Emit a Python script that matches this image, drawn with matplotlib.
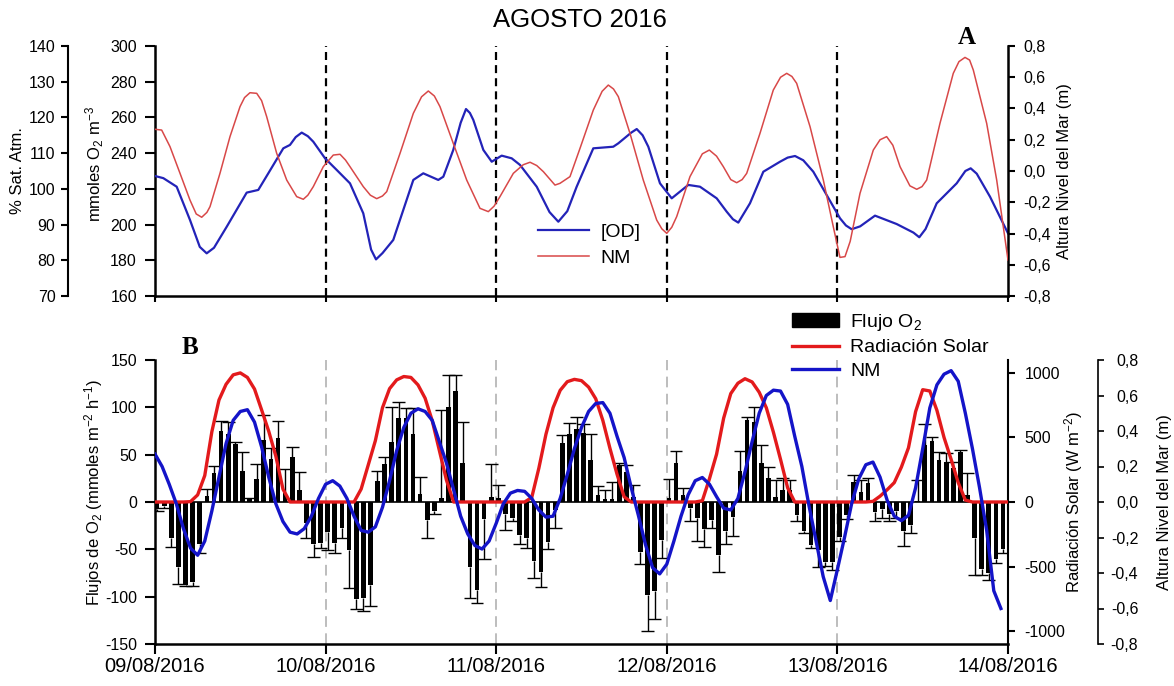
import numpy as np
import matplotlib
matplotlib.use("Agg")
import matplotlib.pyplot as plt
from matplotlib.ticker import FuncFormatter
from matplotlib.patches import Patch
from matplotlib.lines import Line2D

plt.rcParams.update({
    "font.family": ["Liberation Sans", "DejaVu Sans"],
    "mathtext.fontset": "custom",
    "mathtext.rm": "Liberation Sans",
    "mathtext.it": "Liberation Sans:italic",
    "mathtext.bf": "Liberation Sans:bold",
    "axes.unicode_minus": False,
})

# ---------------- data ----------------
date_labels = ["09/08/2016", "10/08/2016", "11/08/2016", "12/08/2016", "13/08/2016", "14/08/2016"]
day_hours = [0, 24, 48, 72, 96, 120]

# Panel A: dissolved oxygen (mmoles O2 m-3), hours from 09/08 00:00
od_hours = [0, 1.17, 3.05, 4.92, 6.3, 7.27, 8.3, 10.09, 12.90, 14.53, 15.94, 18.05, 18.99, 19.8,
            20.64, 21.5, 22.27, 23.92, 25.56, 27.43, 29.30, 30.4, 31.09, 32.0, 33.52, 36.34, 37.74,
            39.85, 40.56, 41.96, 43.0, 43.75, 44.3, 44.78, 46.19, 47.37, 48.77, 50.18, 51.35, 53.70,
            55.5, 56.74, 58.0, 59.32, 61.66, 64.47, 65.18, 67.0, 67.77, 68.6, 69.40, 71.04, 72.69,
            75.02, 76.67, 79.02, 80.43, 81.3, 82.06, 83.70, 85.58, 87.93, 89.0, 90.04, 91.2, 92.61,
            96.37, 97.2, 98.01, 99.2, 101.29, 104.34, 106.7, 107.52, 108.4, 109.97, 112.78, 114.0,
            114.75, 115.6, 117.47, 120.0]
od_values = [227.2, 226.0, 221.2, 202.6, 187.5, 183.9, 187.0, 198.8, 217.9, 219.4, 228.7, 242.7, 244.6,
             249.0, 251.5, 249.5, 246.4, 237.1, 230.6, 223.1, 206.3, 186.0, 180.5, 184.0, 191.4, 225.0,
             228.7, 225.0, 226.8, 241.8, 257.0, 264.7, 262.5, 258.6, 241.8, 235.2, 238.6, 237.1, 233.4,
             221.2, 207.0, 201.6, 207.5, 221.2, 242.7, 243.6, 245.5, 251.5, 253.5, 250.0, 243.6, 223.1,
             214.7, 222.2, 221.2, 214.7, 207.2, 203.0, 201.1, 211.9, 229.6, 235.2, 237.5, 238.4, 236.0,
             229.6, 203.5, 199.5, 197.4, 199.0, 205.0, 200.3, 195.5, 192.9, 197.5, 211.9, 223.1, 230.0,
             231.5, 228.5, 215.6, 195.1]

# Panel A: sea level (m)
nm_a_hours = [0, 0.94, 2.11, 3.52, 4.92, 5.8, 6.57, 7.3, 7.74, 9.14, 10.55, 11.96, 12.6, 13.36, 14.31,
              15.0, 15.71, 17.12, 18.53, 19.93, 20.86, 21.5, 22.27, 23.68, 25.08, 26.03, 26.8, 27.43,
              29.30, 30.3, 31.19, 32.0, 32.60, 34.47, 36.34, 37.5, 38.45, 39.3, 40.09, 41.96, 43.85,
              45.72, 46.89, 47.7, 48.53, 50.41, 51.8, 52.76, 53.7, 54.63, 56.27, 56.97, 58.38, 59.79,
              61.66, 62.9, 63.77, 64.5, 65.18, 66.82, 68.69, 70.58, 71.3, 71.99, 72.7, 73.39, 75.26,
              77.0, 77.98, 79.0, 79.95, 81.0, 81.83, 82.6, 83.24, 85.11, 86.98, 88.0, 88.87, 89.6,
              90.27, 92.15, 94.02, 95.42, 96.36, 97.07, 97.8, 99.18, 101.05, 102.0, 102.93, 103.8,
              104.81, 106.2, 107.16, 107.9, 108.56, 110.43, 112.30, 113.1, 113.95, 114.6, 115.12,
              117.00, 118.41, 120.0]
nm_a_values = [0.267, 0.262, 0.156, -0.015, -0.186, -0.275, -0.296, -0.265, -0.228, -0.015, 0.22, 0.412,
               0.47, 0.501, 0.497, 0.45, 0.348, 0.113, -0.058, -0.164, -0.181, -0.155, -0.1, 0.028,
               0.102, 0.107, 0.07, 0.028, -0.1, -0.155, -0.177, -0.16, -0.132, 0.113, 0.369, 0.475,
               0.512, 0.48, 0.412, 0.177, -0.058, -0.239, -0.26, -0.225, -0.164, -0.015, 0.04, 0.056,
               0.035, -0.004, -0.09, -0.079, -0.036, 0.145, 0.39, 0.51, 0.55, 0.525, 0.476, 0.241,
               -0.058, -0.314, -0.37, -0.399, -0.36, -0.292, -0.036, 0.11, 0.134, 0.095, 0.028, -0.055,
               -0.075, -0.055, -0.015, 0.241, 0.518, 0.60, 0.625, 0.605, 0.561, 0.284, -0.058, -0.356,
               -0.553, -0.548, -0.45, -0.143, 0.134, 0.2, 0.22, 0.165, 0.028, -0.095, -0.117, -0.1,
               -0.058, 0.305, 0.625, 0.70, 0.727, 0.71, 0.646, 0.305, -0.058, -0.57]

# Panel B: hourly O2 flux (mmoles m-2 h-1) and its error
flux = [-7.4, -3.9, -37.7, -69.0, -87.6, -84.1, -44.4, 6.3, 30.6, 74.6,
        71.8, 60.9, 32.7, 3.2, 23.9, 65.5, 45.0, 67.2, 10.0, 47.2,
        12.3, -22.5, -44.4, -43.6, -31.3, -43.0, -27.1, -50.7, -102.8, -101.0,
        -87.6, 22.2, 40.1, 63.7, 88.4, 88.4, 71.8, 8.1, -18.7, -9.5,
        4.0, 100.7, 117.2, 40.8, -69.0, -92.9, -18.0, 5.6, 4.6, -13.0,
        -16.5, -34.8, -38.4, -62.0, -74.2, -41.9, -8.4, 62.0, 71.8, 76.7,
        73.2, 44.0, 7.4, 3.2, 3.2, 39.0, 32.0, 5.6, -52.4, -98.2,
        -94.0, -40.1, 4.0, 40.8, 7.4, -6.0, -17.2, -28.5, -19.0, -56.0,
        -30.3, -16.2, 33.1, 86.6, 84.8, 40.8, 25.0, 5.6, 12.3, 12.7,
        -13.7, -30.3, -45.4, -50.7, -63.7, -63.7, -36.6, -13.7, 21.5, 10.9,
        20.4, -10.2, -7.4, -13.0, -9.5, -30.6, -24.3, 1.0, 60.2, 64.4,
        44.4, 41.9, 35.6, 53.2, 7.0, -37.7, -70.8, -75.3, -60.5, -50.0]
flux_err = [2, 2, 10.2, 18, 1, 4.6, 9.2, 7, 7.4, 10.9,
            13, 2, 20, 1, 16.5, 26, 12, 18, 25, 11,
            19.7, 15.8, 14, 5.3, 19.4, 11, 11.3, 40, 10.2, 14,
            22, 10.6, 7.7, 37, 17.6, 11.3, 27.8, 18, 19, 3.5,
            93, 33, 17, 44, 32.7, 14, 42, 35, 13, 16.5,
            4, 9.5, 10.6, 18.7, 16, 8, 18.7, 8.8, 12, 12.7,
            8.8, 28, 9.5, 10, 18, 2, 7, 12, 13.4, 38,
            29.6, 19.4, 20, 13, 7.7, 14, 24, 19.4, 8.8, 18.3,
            14, 20, 21, 3.5, 16, 19.4, 11.6, 17.6, 12.7, 10.6,
            6, 2, 3.5, 17.6, 3.5, 8, 5, 4, 7, 12.3,
            4.6, 10, 10, 7, 7.7, 15.8, 8, 22, 22, 4.6,
            8.8, 10, 7, 2, 24, 39, 6, 7, 4, 4]

# Panel B: hourly solar radiation (W m-2), one list per day
rad_day1 = [0, 0, 0, 0, 0, 3, 55, 205, 545, 790, 912, 985, 1000, 965, 875, 713, 548, 355, 100, 0, 0, 0, 0, 0]
rad_day2 = [0, 0, 0, 0, 0, 100, 287, 475, 730, 878, 946, 972, 965, 907, 804, 630, 400, 170, 0, 0, 0, 0, 0, 0]
rad_day3 = [0, 0, 0, 0, 0, 35, 262, 525, 730, 865, 932, 950, 940, 890, 800, 632, 416, 215, 40, 0, 0, 0, 0, 0]
rad_day4 = [0, 0, 0, 0, 0, 10, 180, 370, 650, 840, 920, 955, 930, 850, 730, 540, 330, 110, 0, 0, 0, 0, 0, 0]
rad_day5 = [0, 0, 0, 0, 0, 5, 45, 95, 150, 270, 420, 700, 870, 860, 710, 500, 330, 150, 15, 0, 0, 0, 0, 0]
rad_end = [0]

# Panel B: hourly sea level (m)
nm_b = [0.27, 0.20, 0.10, -0.01, -0.15, -0.26, -0.30, -0.22, -0.05, 0.14,
        0.33, 0.46, 0.51, 0.52, 0.45, 0.31, 0.14, -0.01, -0.11, -0.17,
        -0.18, -0.15, -0.08, 0.02, 0.10, 0.12, 0.09, 0.02, -0.08, -0.16,
        -0.17, -0.14, -0.03, 0.12, 0.29, 0.42, 0.50, 0.525, 0.51, 0.46,
        0.34, 0.22, 0.07, -0.08, -0.18, -0.245, -0.265, -0.22, -0.12, -0.01,
        0.05, 0.065, 0.06, 0.02, -0.045, -0.085, -0.08, 0.02, 0.155, 0.30,
        0.42, 0.51, 0.555, 0.56, 0.50, 0.37, 0.25, 0.08, -0.075, -0.24,
        -0.37, -0.405, -0.35, -0.22, -0.08, 0.04, 0.12, 0.138, 0.10, 0.03,
        -0.035, -0.045, 0.02, 0.17, 0.34, 0.50, 0.60, 0.63, 0.625, 0.55,
        0.37, 0.20, -0.02, -0.22, -0.42, -0.555, -0.38, -0.20, -0.01, 0.13,
        0.21, 0.225, 0.14, 0.01, -0.08, -0.105, -0.075, 0.08, 0.30, 0.53,
        0.66, 0.72, 0.74, 0.68, 0.50, 0.30, 0.08, -0.16, -0.50, -0.60]

# ---------------- styling ----------------
BLUE_A = "#2323b8"
RED_A = "#d84848"
BLUE_B = "#1414c8"
RED_B = "#e31a1c"
TICK_FS = 11.5
LABEL_FS = 12
LEG_FS = 14


def comma_fmt(v, pos):
    s = f"{v:.1f}"
    if s == "-0.0":
        s = "0.0"
    return s.replace(".", ",")


W, H = 1174, 686


def box(x0, y0, x1, y1):
    return [x0 / W, 1 - y1 / H, (x1 - x0) / W, (y1 - y0) / H]


fig = plt.figure(figsize=(W / 100, H / 100), dpi=100)
ax_top = fig.add_axes(box(155, 46, 1008, 296))
ax_bot = fig.add_axes(box(155, 360, 1008, 644))
span_px = 1008 - 155

# ---------------- panel A ----------------
ax_top.plot(od_hours, od_values, color=BLUE_A, lw=1.6, zorder=3)
ax_top.set_xlim(0, 120)
ax_top.set_ylim(160, 300)
ax_top.set_yticks(np.arange(160, 301, 20))
for d in day_hours[1:-1]:
    ax_top.axvline(d, color="black", lw=1.6, ls=(0, (3.6, 2.3)), zorder=1)
ax_top.set_xticks(day_hours)
ax_top.set_xticklabels([])
ax_top.tick_params(axis="x", direction="out", length=4, width=1.5)
ax_top.tick_params(axis="y", direction="out", length=7, width=1.5, pad=6, labelsize=TICK_FS)
for s in ("top", "right"):
    ax_top.spines[s].set_visible(False)
for s in ("left", "bottom"):
    ax_top.spines[s].set_linewidth(1.8)
ax_top.set_ylabel("mmoles O$_2$ m$^{-3}$", fontsize=LABEL_FS)
ax_top.yaxis.set_label_coords((106 - 155) / span_px, 0.53)

ax_top_r = ax_top.twinx()
ax_top_r.plot(nm_a_hours, nm_a_values, color=RED_A, lw=1.1, zorder=3)
ax_top_r.set_ylim(-0.8, 0.8)
ax_top_r.set_yticks(np.linspace(-0.8, 0.8, 9))
ax_top_r.yaxis.set_major_formatter(FuncFormatter(comma_fmt))
ax_top_r.tick_params(axis="y", direction="out", length=5, width=1.5, pad=6, labelsize=TICK_FS)
for s in ("top", "left", "bottom"):
    ax_top_r.spines[s].set_visible(False)
ax_top_r.spines["right"].set_linewidth(1.8)
ax_top_r.set_ylabel("Altura Nivel del Mar (m)", fontsize=LABEL_FS)
ax_top_r.yaxis.set_label_coords((1057 - 155) / span_px, 0.5)

ax_sat = ax_top.twinx()
ax_sat.set_ylim(70, 140)
ax_sat.set_yticks(np.arange(70, 141, 10))
ax_sat.yaxis.tick_left()
ax_sat.yaxis.set_label_position("left")
ax_sat.spines["left"].set_position(("axes", (68 - 155) / span_px))
for s in ("top", "right", "bottom"):
    ax_sat.spines[s].set_visible(False)
ax_sat.spines["left"].set_visible(True)
ax_sat.spines["left"].set_linewidth(1.5)
ax_sat.tick_params(axis="y", direction="out", length=5, width=1.5, pad=4, labelsize=TICK_FS)
ax_sat.set_ylabel("% Sat. Atm.", fontsize=LABEL_FS)
ax_sat.yaxis.set_label_coords((25 - 155) / span_px, 0.5)

fig.legend(handles=[Line2D([], [], color=BLUE_A, lw=1.6), Line2D([], [], color=RED_A, lw=1.1)],
           labels=["[OD]", "NM"], loc="upper left", bbox_to_anchor=(538 / W, 1 - 223 / H),
           frameon=False, fontsize=LEG_FS, handlelength=2.6, handletextpad=0.6,
           labelspacing=0.45, borderpad=0, borderaxespad=0)

# ---------------- panel B ----------------
flux_arr = np.array(flux)
err_arr = np.array(flux_err)
bar_x = np.arange(len(flux)) + 0.3
ax_bot.axhline(0, color="black", lw=1.2, zorder=1)
ax_bot.bar(bar_x, flux_arr, width=0.66, color="black", zorder=2)
tips = np.where(flux_arr >= 0, flux_arr + err_arr, flux_arr - err_arr)
ax_bot.vlines(bar_x, flux_arr, tips, color="black", lw=1.0, zorder=2)
ax_bot.hlines(tips, bar_x - 0.9, bar_x + 0.9, color="black", lw=1.0, zorder=2)
for d in day_hours[1:-1]:
    ax_bot.axvline(d, color="#bdbdbd", lw=1.4, ls=(0, (5.5, 3.3)), zorder=0)
ax_bot.set_xlim(0, 120)
ax_bot.set_ylim(-150, 150)
ax_bot.set_yticks(np.arange(-150, 151, 50))
ax_bot.set_xticks(day_hours)
ax_bot.set_xticklabels(date_labels, fontsize=14.5)
ax_bot.tick_params(axis="x", direction="out", length=7, width=1.5, pad=2)
ax_bot.tick_params(axis="y", direction="out", length=7, width=1.5, pad=6, labelsize=TICK_FS)
for s in ("top", "right"):
    ax_bot.spines[s].set_visible(False)
for s in ("left", "bottom"):
    ax_bot.spines[s].set_linewidth(1.8)
ax_bot.set_ylabel("Flujos de O$_2$ (mmoles m$^{-2}$ h$^{-1}$)", fontsize=LABEL_FS)
ax_bot.yaxis.set_label_coords((105 - 155) / span_px, 0.535)

radiation = rad_day1 + rad_day2 + rad_day3 + rad_day4 + rad_day5 + rad_end
ax_rad = ax_bot.twinx()
ax_rad.plot(np.arange(len(radiation)), radiation, color=RED_B, lw=2.4, zorder=3)
ax_rad.set_ylim(-1100, 1100)
ax_rad.set_yticks([-1000, -500, 0, 500, 1000])
ax_rad.tick_params(axis="y", direction="out", length=5, width=1.5, pad=7, labelsize=TICK_FS)
for s in ("top", "left", "bottom"):
    ax_rad.spines[s].set_visible(False)
ax_rad.spines["right"].set_linewidth(1.5)
ax_rad.set_ylabel("Radiación Solar (W m$^{-2}$)", fontsize=LABEL_FS)
ax_rad.yaxis.set_label_coords((1062 - 155) / span_px, 0.5)

ax_nm = ax_bot.twinx()
ax_nm.plot(np.arange(len(nm_b)), nm_b, color=BLUE_B, lw=2.4, zorder=4)
ax_nm.set_ylim(-0.8, 0.8)
ax_nm.set_yticks(np.linspace(-0.8, 0.8, 9))
ax_nm.yaxis.set_major_formatter(FuncFormatter(comma_fmt))
ax_nm.spines["right"].set_position(("axes", (1098 - 155) / span_px))
for s in ("top", "left", "bottom"):
    ax_nm.spines[s].set_visible(False)
ax_nm.spines["right"].set_linewidth(1.2)
ax_nm.tick_params(axis="y", direction="out", length=4, width=1.2, pad=25, labelsize=TICK_FS)
for t in ax_nm.yaxis.get_major_ticks():
    t.label2.set_horizontalalignment("right")
ax_nm.set_ylabel("Altura Nivel del Mar (m)", fontsize=LABEL_FS)
ax_nm.yaxis.set_label_coords((1157 - 155) / span_px, 0.5)

fig.legend(handles=[Patch(facecolor="black", edgecolor="black"),
                    Line2D([], [], color=RED_B, lw=2.4),
                    Line2D([], [], color=BLUE_B, lw=2.4)],
           labels=["Flujo O$_2$", "Radiación Solar", "NM"], loc="upper left",
           bbox_to_anchor=(792 / W, 1 - 312 / H), frameon=False, fontsize=LEG_FS,
           handlelength=2.4, handletextpad=0.6, labelspacing=0.3, borderpad=0, borderaxespad=0)

# ---------------- titles ----------------
fig.text(580 / W, 1 - 20 / H, "AGOSTO 2016", ha="center", va="center", fontsize=18.5)
fig.text(967 / W, 1 - 38 / H, "A", ha="center", va="center", fontsize=18,
         fontfamily="Liberation Serif", fontweight="bold")
fig.text(190 / W, 1 - 347 / H, "B", ha="center", va="center", fontsize=18,
         fontfamily="Liberation Serif", fontweight="bold")

fig.savefig("out.png", dpi=100)
